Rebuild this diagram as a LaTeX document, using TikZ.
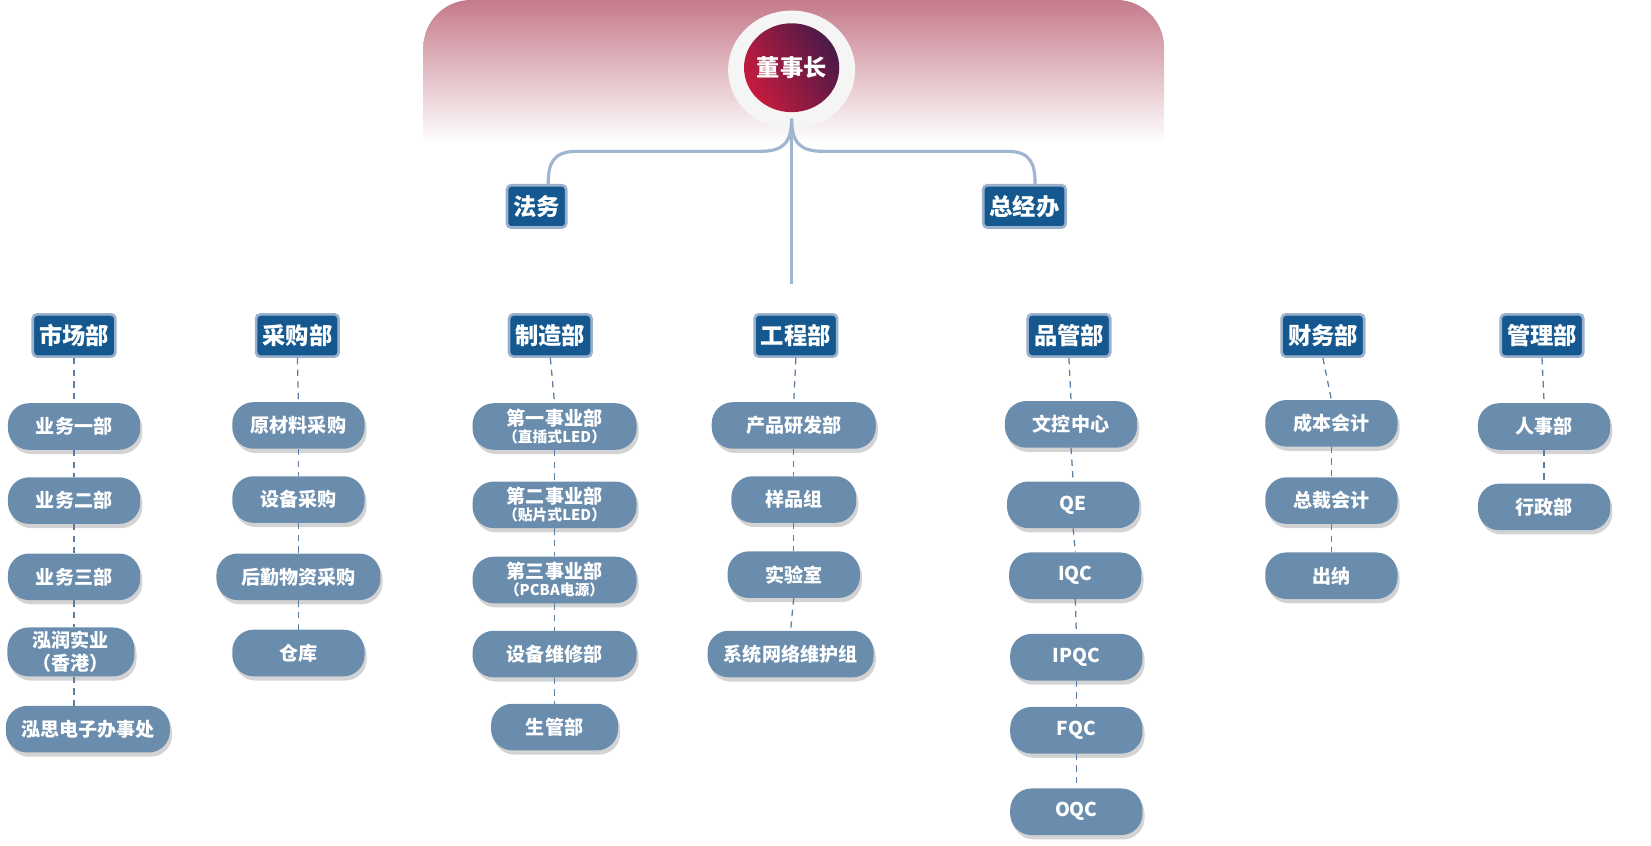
\documentclass[tikz,border=0pt]{standalone}
\usepackage{fontspec}
\setmainfont{Noto Sans CJK SC}
\usetikzlibrary{shadows,shapes.geometric}
\newcommand{\mysmalltxt}{\bfseries\fontsize{14}{15}\selectfont}
\definecolor{hdr}{HTML}{15588F}
\definecolor{hdrb}{HTML}{9AB0CC}
\definecolor{pill}{HTML}{6A8DAE}
\definecolor{dash}{HTML}{5C7EA0}
\definecolor{conn}{HTML}{9FB5D0}
\definecolor{bandtop}{HTML}{C57A8A}
\definecolor{bandmid}{HTML}{EBCFD5}
\definecolor{chA}{HTML}{4A1A48}
\definecolor{chB}{HTML}{C61B3D}
\tikzset{
 hd/.style={draw=hdrb, line width=2.5pt, fill=hdr, rounded corners=4pt, minimum height=40pt, inner xsep=6pt, text=white, font=\bfseries\fontsize{22}{24}\selectfont},
 pl/.style={fill=pill, rounded corners=20pt, minimum height=44pt, minimum width=#1, text=white, align=center, font=\bfseries\fontsize{18}{19}\selectfont, drop shadow={opacity=0.35, shadow xshift=2pt, shadow yshift=-4pt}},
 pl/.default=125pt,
 dl/.style={draw=dash, line width=1.2pt, dash pattern=on 6pt off 5pt},
 cn/.style={draw=conn, line width=3pt}
}
\begin{document}
\begin{tikzpicture}[x=1pt,y=-1pt]
\useasboundingbox (0,0) rectangle (1560,799);
% band
\shade[top color=bandtop, middle color=bandmid, bottom color=white] (400,135) [rounded corners=45pt] -- (400,0) -- (1100,0) [sharp corners] -- (1100,135) -- cycle;
% chairman
\node[ellipse, fill=white!92!gray, minimum width=120pt, minimum height=112pt, draw=none] (bossO) at (748,66) {};
\shade[left color=chA, right color=chB, shading angle=-60] (748,64) ellipse (45pt and 42pt);
\node[text=white, font=\bfseries\fontsize{22}{24}\selectfont] (boss) at (748,64) {董事长};
\coordinate (hub) at (748,112);
\coordinate (vend) at (748,268);
\node[hd] (fw) at (507,195) {法务};
\node[hd] (zj) at (968,195) {总经办};
\draw[cn] (hub) -- (vend);
\draw[cn] (hub) .. controls (748,135) and (740,143) .. (718,143) -- (545,143) .. controls (522,143) and (518,155) .. ([xshift=11pt]fw.north);
\draw[cn] (hub) .. controls (748,135) and (756,143) .. (778,143) -- (952,143) .. controls (974,143) and (978,155) .. ([xshift=10pt]zj.north);
% headers
\node[hd] (h1) at (70,317) {市场部};
\node[hd] (h2) at (281,317) {采购部};
\node[hd] (h3) at (520,317) {制造部};
\node[hd] (h4) at (752,317) {工程部};
\node[hd] (h5) at (1010,317) {品管部};
\node[hd] (h6) at (1250,317) {财务部};
\node[hd] (h7) at (1457,317) {管理部};
% col1
\node[pl] (a1) at (70,403) {业务一部};
\node[pl] (a2) at (70,473) {业务二部};
\node[pl] (a3) at (70,545) {业务三部};
\node[pl=120pt, font=\bfseries\fontsize{18}{22}\selectfont] (a4) at (67,616) {泓润实业\\（香港）};
\node[pl=155pt] (a5) at (83,689) {泓思电子办事处};
\draw[dl] (h1.south) -- (a1.north); \draw[dl] (a1.south) -- (a2.north); \draw[dl] (a2.south) -- (a3.north); \draw[dl] (a3.south) -- ([xshift=3pt]a4.north); \draw[dl] ([xshift=3pt]a4.south) -- ([xshift=-13pt]a5.north);
% col2
\node[pl] (b1) at (282,402) {原材料采购};
\node[pl] (b2) at (282,472) {设备采购};
\node[pl=155pt] (b3) at (282,545) {后勤物资采购};
\node[pl] (b4) at (282,617) {仓库};
\draw[dl] (h2.south) -- (b1.north); \draw[dl] (b1.south) -- (b2.north); \draw[dl] (b2.south) -- (b3.north); \draw[dl] (b3.south) -- (b4.north);
% col3
\node[pl=155pt] (c1) at (524,403) {第一事业部\\[-3pt]{\mysmalltxt （直插式LED）}};
\node[pl=155pt] (c2) at (524,477) {第二事业部\\[-3pt]{\mysmalltxt （贴片式LED）}};
\node[pl=155pt] (c3) at (524,548) {第三事业部\\[-3pt]{\mysmalltxt （PCBA电源）}};
\node[pl=155pt] (c4) at (524,618) {设备维修部};
\node[pl=120pt] (c5) at (524,687) {生管部};
\draw[dl] (h3.south) -- (c1.north); \draw[dl] (c1.south) -- (c2.north); \draw[dl] (c2.south) -- (c3.north); \draw[dl] (c3.south) -- (c4.north); \draw[dl] (c4.south) -- (c5.north);
% col4
\node[pl=155pt] (d1) at (750,402) {产品研发部};
\node[pl=118pt] (d2) at (750,472) {样品组};
\node[pl] (d3) at (750,543) {实验室};
\node[pl=157pt] (d4) at (747,618) {系统网络维护组};
\draw[dl] (h4.south) -- (d1.north); \draw[dl] (d1.south) -- (d2.north); \draw[dl] (d2.south) -- (d3.north); \draw[dl] (d3.south) -- (d4.north);
% col5
\node[pl] (e1) at (1012,401) {文控中心};
\node[pl] (e2) at (1014,477) {QE};
\node[pl] (e3) at (1016,544) {IQC};
\node[pl] (e4) at (1017,621) {IPQC};
\node[pl] (e5) at (1017,690) {FQC};
\node[pl] (e6) at (1017,767) {OQC};
\draw[dl] (h5.south) -- (e1.north); \draw[dl] (e1.south) -- (e2.north); \draw[dl] (e2.south) -- (e3.north); \draw[dl] (e3.south) -- (e4.north); \draw[dl] (e4.south) -- (e5.north); \draw[dl] (e5.south) -- (e6.north);
% col6
\node[pl] (f1) at (1258,400) {成本会计};
\node[pl] (f2) at (1258,473) {总裁会计};
\node[pl] (f3) at (1258,544) {出纳};
\draw[dl] (h6.south) -- (f1.north); \draw[dl] (f1.south) -- (f2.north); \draw[dl] (f2.south) -- (f3.north);
% col7
\node[pl] (g1) at (1459,403) {人事部};
\node[pl] (g2) at (1459,479) {行政部};
\draw[dl] (h7.south) -- (g1.north); \draw[dl] (g1.south) -- (g2.north);
\end{tikzpicture}
\end{document}
